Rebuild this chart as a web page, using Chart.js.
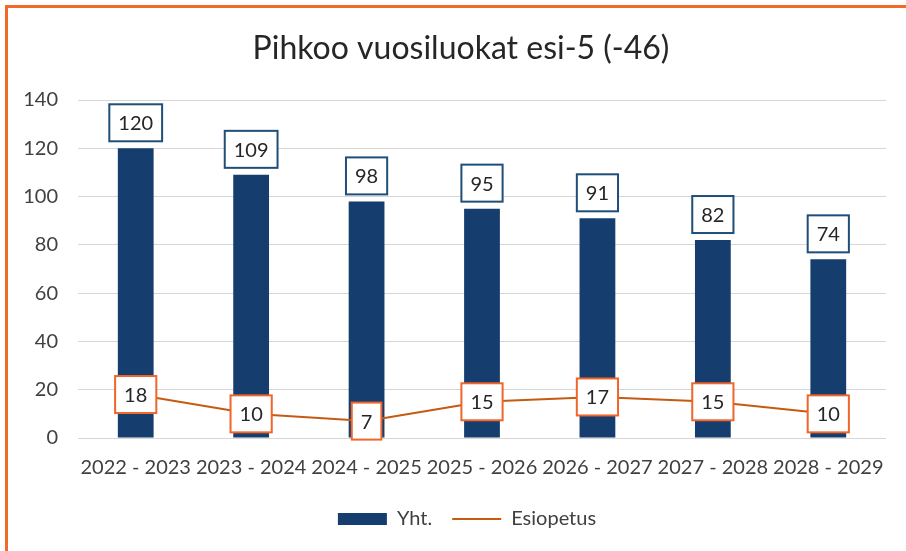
<!DOCTYPE html>
<html>
<head>
<meta charset="utf-8">
<script src="https://cdn.jsdelivr.net/npm/chart.js@4/dist/chart.umd.min.js"></script>
<style>
  html, body { margin: 0; padding: 0; overflow: hidden; background: #fff; }
  #wrap { position: relative; width: 906px; height: 551px; }
  #frame {
    position: absolute; left: 5px; top: 5px; width: 920px; height: 570px;
    border: 3px solid #F26A2A; pointer-events: none;
  }
  canvas { position: absolute; left: 0; top: 0; }
</style>
</head>
<body>
<div id="wrap">
  <canvas id="myChart" width="906" height="551"></canvas>
  <div id="frame"></div>
</div>
<script>
const years = ['2022 - 2023', '2023 - 2024', '2024 - 2025', '2025 - 2026', '2026 - 2027', '2027 - 2028', '2028 - 2029'];
const yhteensa = [120, 109, 98, 95, 91, 82, 74];
const esiopetus = [18, 10, 7, 15, 17, 15, 10];
const yTicks = [0, 20, 40, 60, 80, 100, 120, 140];

const FONT = 'Lato, "Liberation Sans", sans-serif';

// boxed value labels: above the bars, centred on the line points
const boxLabels = {
    id: 'boxLabels',
    afterDatasetsDraw(chart) {
        const ctx = chart.ctx;
        ctx.save();
        ctx.font = '20px ' + FONT;
        ctx.textAlign = 'center';
        ctx.textBaseline = 'middle';
        chart.data.datasets.forEach((ds, i) => {
            const meta = chart.getDatasetMeta(i);
            meta.data.forEach((el, j) => {
                const text = String(ds.data[j]);
                const w = ctx.measureText(text).width + 18;
                const h = 37;
                let cy;
                if (meta.type === 'bar') {
                    cy = el.y - 7 - h / 2;
                } else {
                    cy = el.y;
                }
                const x0 = el.x - w / 2, y0 = cy - h / 2;
                ctx.fillStyle = '#fff';
                ctx.fillRect(x0, y0, w, h);
                ctx.lineWidth = 2;
                ctx.strokeStyle = ds.labelBorder;
                ctx.strokeRect(x0, y0, w, h);
                ctx.fillStyle = '#262626';
                ctx.fillText(text, el.x, cy + 1);
            });
        });
        ctx.restore();
    }
};

// nudge title and legend a little to the right of the canvas centre
const shiftBlocks = {
    id: 'shiftBlocks',
    afterLayout(chart) {
        const t = chart.titleBlock, l = chart.legend;
        if (t) { t.left += 18; t.right += 18; }
        if (l) { l.left += 24; l.right += 24; }
    }
};

const ctx = document.getElementById('myChart').getContext('2d');
new Chart(ctx, {
    type: 'bar',
    data: {
        labels: years,
        datasets: [
            {
                label: 'Yht.',
                data: yhteensa,
                backgroundColor: '#153D6E',
                labelBorder: '#1F4E79',
                categoryPercentage: 1,
                barPercentage: 0.31,
                pointStyle: 'rect',
                order: 1
            },
            {
                type: 'line',
                label: 'Esiopetus',
                data: esiopetus,
                borderColor: '#C55A11',
                backgroundColor: '#C55A11',
                labelBorder: '#F0652A',
                borderWidth: 2,
                pointRadius: 0,
                pointStyle: 'line',
                order: 0
            }
        ]
    },
    options: {
        responsive: false,
        animation: false,
        layout: { padding: { left: 0, right: 20, top: 0, bottom: 12 } },
        scales: {
            x: {
                afterFit: axis => { axis.height = 51; },
                grid: { display: false, drawTicks: false },
                border: { display: false },
                ticks: { color: '#404040', font: { family: FONT, size: 20 }, padding: 18, maxRotation: 0 }
            },
            y: {
                min: 0,
                max: 140,
                afterBuildTicks: axis => { axis.ticks = yTicks.map(v => ({ value: v })); },
                afterFit: axis => { axis.width = 78; },
                grid: { color: '#d6d6d6', lineWidth: 1, drawTicks: false },
                border: { display: false },
                ticks: { color: '#404040', font: { family: FONT, size: 20 }, padding: 20 }
            }
        },
        plugins: {
            title: {
                display: true,
                text: 'Pihkoo vuosiluokat esi-5 (-46)',
                color: '#262626',
                font: { family: FONT, size: 32, weight: 'normal' },
                padding: { top: 29, bottom: 32.6 }
            },
            legend: {
                position: 'bottom',
                labels: {
                    usePointStyle: true,
                    pointStyleWidth: 49,
                    boxHeight: 12,
                    padding: 20,
                    color: '#404040',
                    font: { family: FONT, size: 20 },
                    sort: (a, b) => a.datasetIndex - b.datasetIndex
                }
            },
            tooltip: { enabled: false }
        }
    },
    plugins: [boxLabels, shiftBlocks]
});
</script>
</body>
</html>
